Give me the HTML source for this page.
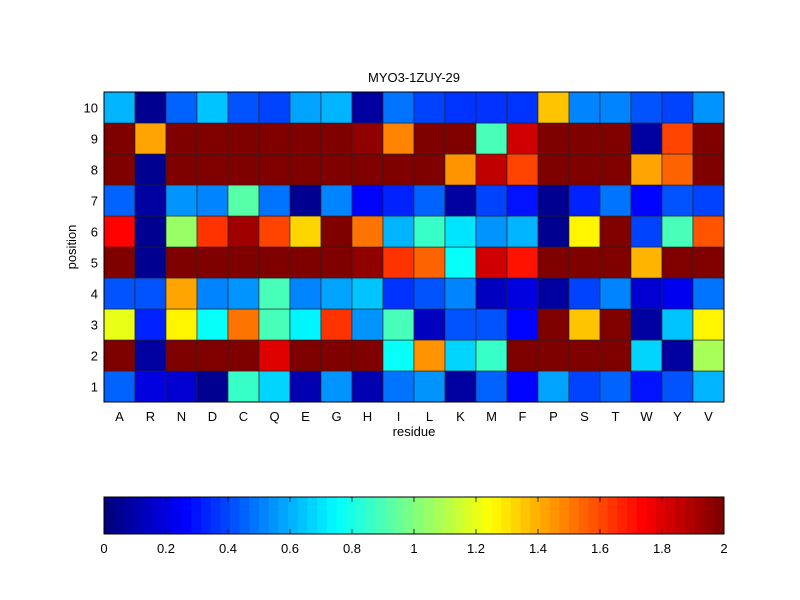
<!DOCTYPE html>
<html><head><meta charset="utf-8"><style>
body{margin:0;background:#fff;}
svg{display:block;font-family:"Liberation Sans",sans-serif;}
</style></head><body>
<svg id="chart" width="800" height="600"></svg>
<script>
const residues=["A","R","N","D","C","Q","E","G","H","I","L","K","M","F","P","S","T","W","Y","V"];
const positions=[1,2,3,4,5,6,7,8,9,10];
// values[i] = row for position positions[i]
const row1=[0.45,0.2,0.18,0.06,0.85,0.67,0.12,0.55,0.1,0.47,0.55,0.07,0.45,0.28,0.57,0.4,0.45,0.3,0.42,0.6];
const row2=[2,0.08,2,2,2,1.8,2,2,2,0.78,1.45,0.67,0.87,2,2,2,2,0.67,0.08,1.07];
const row3=[1.2,0.32,1.28,0.78,1.53,0.9,0.73,1.63,0.55,0.9,0.15,0.42,0.42,0.27,1.97,1.35,1.97,0.08,0.63,1.25];
const row4=[0.42,0.42,1.43,0.53,0.55,0.88,0.5,0.58,0.65,0.35,0.42,0.5,0.15,0.2,0.07,0.4,0.53,0.18,0.23,0.47];
const row5=[2,0.05,2,2,2,2,2,2,1.95,1.65,1.55,0.75,1.82,1.7,2,2,2,1.4,2,2];
const row6=[1.73,0.05,1.05,1.63,1.92,1.6,1.32,1.97,1.5,0.6,0.85,0.7,0.55,0.6,0.05,1.25,1.97,0.4,0.9,1.58];
const row7=[0.45,0.08,0.55,0.5,0.93,0.47,0.05,0.53,0.25,0.32,0.45,0.07,0.4,0.3,0.05,0.32,0.47,0.27,0.42,0.4];
const row8=[2,0.05,2,2,2,2,2,2,2,1.97,2,1.45,1.85,1.6,2,2,2,1.43,1.55,2];
const row9=[2,1.43,2,2,2,2,2,2,1.95,1.47,2,1.97,0.9,1.82,1.97,2,2,0.08,1.62,2];
const row10=[0.6,0.05,0.45,0.63,0.42,0.4,0.58,0.6,0.08,0.47,0.4,0.35,0.35,0.37,1.35,0.5,0.5,0.42,0.38,0.55];
const values=[row1,row2,row3,row4,row5,row6,row7,row8,row9,row10];
const cbTicks=[0,0.2,0.4,0.6,0.8,1,1.2,1.4,1.6,1.8,2];

const NS="http://www.w3.org/2000/svg";
const svg=document.getElementById('chart');
const L=104,R=724,T=92,B=402,vmin=0,vmax=2;
const cw=(R-L)/residues.length, ch=(B-T)/positions.length;
const xPos=i=>L+i*cw;
const yPos=j=>B-(j+1)*ch;
function jet(v){
  let t=(v-vmin)/(vmax-vmin);t=Math.max(0,Math.min(1,t));
  t=Math.min(63,Math.floor(t*64))/63;
  const f=x=>Math.max(0,Math.min(1,x));
  const r=f(1.5-Math.abs(4*t-3)),g=f(1.5-Math.abs(4*t-2)),b=f(1.5-Math.abs(4*t-1));
  return `rgb(${Math.round(r*255)},${Math.round(g*255)},${Math.round(b*255)})`;
}
function el(tag,attrs,txt){const e=document.createElementNS(NS,tag);for(const k in attrs)e.setAttribute(k,attrs[k]);if(txt!==undefined)e.textContent=txt;svg.appendChild(e);return e;}

positions.forEach((p,j)=>{
  residues.forEach((r,i)=>{
    const c=el('rect',{x:xPos(i),y:yPos(j),width:cw,height:ch,fill:jet(values[j][i]),stroke:'#222','stroke-width':0.6});
    
    
  });
});
const frame=el('rect',{x:L,y:T,width:R-L,height:B-T,fill:'none',stroke:'#000','stroke-width':1});


residues.forEach((r,i)=>{
  const t=el('text',{x:xPos(i)+cw/2,y:B+19,'text-anchor':'middle','font-size':13},r);
  
  
});
positions.forEach((p,j)=>{
  const t=el('text',{x:L-6,y:yPos(j)+ch/2+5,'text-anchor':'end','font-size':13},p);
  
  
});
const title=el('text',{x:(L+R)/2,y:82,'text-anchor':'middle','font-size':13},'MYO3-1ZUY-29');


const xt=el('text',{x:(L+R)/2,y:436,'text-anchor':'middle','font-size':13},'residue');


const yt=el('text',{x:0,y:0,'text-anchor':'middle','font-size':13,transform:`translate(76,${(T+B)/2}) rotate(-90)`},'position');



// colorbar
const CL=104,CR=724,CT=497,CB=534;
const cbx=v=>CL+(v-vmin)/(vmax-vmin)*(CR-CL);
for(let k=0;k<64;k++){
  const v=vmin+(k+0.5)/64*(vmax-vmin);
  const s=el('rect',{x:CL+k*(CR-CL)/64,y:CT,width:(CR-CL)/64+0.5,height:CB-CT,fill:jet(v)});
  
  
}
const cbf=el('rect',{x:CL,y:CT,width:CR-CL,height:CB-CT,fill:'none',stroke:'#000','stroke-width':1});


cbTicks.forEach(v=>{
  const x=cbx(v);
  el('line',{x1:x,x2:x,y1:CT,y2:CT+5,stroke:'#000','stroke-width':0.8});
  el('line',{x1:x,x2:x,y1:CB,y2:CB-5,stroke:'#000','stroke-width':0.8});
  const t=el('text',{x:x,y:CB+19,'text-anchor':'middle','font-size':13},String(v));
  
  
});
</script>
</body></html>
